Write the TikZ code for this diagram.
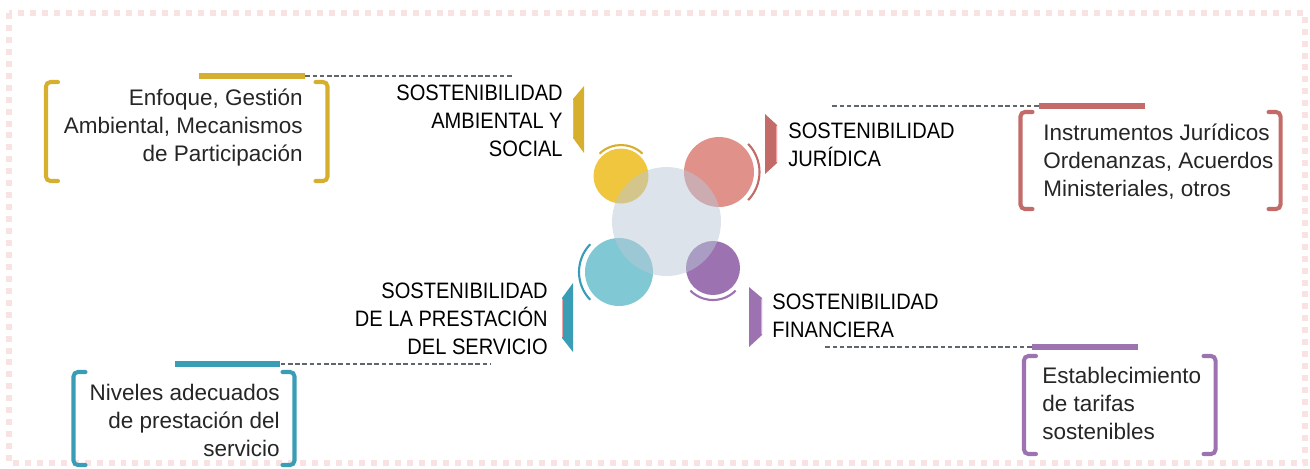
\documentclass[tikz,border=0pt]{standalone}
\usepackage{fontspec}
\setmainfont{Liberation Sans}
\newfontfamily\fuenterotulo[FakeStretch=0.9]{Liberation Sans}
\usetikzlibrary{positioning}

\definecolor{amarillo}{HTML}{D7AF2E}
\definecolor{amarilloclaro}{HTML}{F0C63E}
\definecolor{rojo}{HTML}{C26B69}
\definecolor{rojoclaro}{HTML}{E0928A}
\definecolor{turquesa}{HTML}{3A9DB6}
\definecolor{turquesaclaro}{HTML}{80C8D3}
\definecolor{morado}{HTML}{9C73B0}
\definecolor{nucleo}{HTML}{B9C7D7}
\definecolor{guiagris}{HTML}{5F676E}
\definecolor{rosaborde}{HTML}{F8E2E2}
\definecolor{rosasombra}{HTML}{F2A5A5}
\definecolor{tinta}{HTML}{262626}

\begin{document}
\begin{tikzpicture}[
    x=0.02cm, y=-0.02cm,
    circulo/.style={circle, inner sep=0pt},
    rotulo/.style={inner sep=0pt, font=\fuenterotulo\fontsize{12.7}{15.8}\selectfont, text=black},
    detalle/.style={inner sep=0pt, font=\fontsize{12.8}{16.1}\selectfont, text=tinta},
    barra/.style={rectangle, inner sep=0pt, minimum width=2.12cm, minimum height=0.12cm},
    guia/.style={draw=guiagris, line width=1.3pt, dash pattern=on 2.6pt off 1.5pt},
    corchete/.style={line width=2.3pt, rounded corners=2.5pt, line cap=round},
    aro/.style={line width=1.2pt},
    borde/.style={draw=rosaborde, line width=3.7pt, dash pattern=on 3.4pt off 3.4pt}
]

\useasboundingbox (0,0) rectangle (1310,468);

% Frame
\draw[borde] (9,13) rectangle (1305,463);

% Define circles
\node[circulo, fill=amarilloclaro, minimum size=1.1cm] (amb) at (621,176) {};
\node[circulo, fill=rojoclaro, minimum size=1.4cm] (jur) at (719,172) {};
\node[circulo, fill=turquesaclaro, minimum size=1.36cm] (pre) at (619,272) {};
\node[circulo, fill=morado, minimum size=1.08cm] (fin) at (713,268) {};
\node[circulo, fill=nucleo, fill opacity=0.5, minimum size=2.18cm] (centro) at (666.5,221.5) {};

% Arcs around the circles
\draw[aro, amarillo] ([shift={(46:0.62cm)}]amb.center) arc[start angle=46, end angle=134, radius=0.62cm];
\draw[aro, rojo] ([shift={(-44:0.81cm)}]jur.center) arc[start angle=-44, end angle=44, radius=0.81cm];
\draw[aro, turquesa] ([shift={(136:0.8cm)}]pre.center) arc[start angle=136, end angle=224, radius=0.8cm];
\draw[aro, morado] ([shift={(225:0.64cm)}]fin.center) arc[start angle=225, end angle=315, radius=0.64cm];

% Tabs
\fill[amarillo] (573,99) -- (584,86) -- (584,153) -- (573,138) -- cycle;
\draw[rosasombra, line width=0.6pt] (573.5,100) -- (573.5,137);
\fill[rojo] (765,114) -- (777,125) -- (777,163) -- (765,174) -- cycle;
\draw[rosasombra, line width=0.6pt] (776.5,126) -- (776.5,162);
\fill[turquesa] (562,298) -- (573,283) -- (573,352) -- (562,338) -- cycle;
\draw[rosasombra, line width=0.6pt] (562.5,299) -- (562.5,337);
\fill[morado] (749,287) -- (762,298) -- (762,335) -- (749,347) -- cycle;
\draw[rosasombra, line width=0.6pt] (761.5,299) -- (761.5,334);

% Labels
\node[rotulo, anchor=east, align=right] (lblAmb) at (563,121) {SOSTENIBILIDAD\\AMBIENTAL Y\\SOCIAL};
\node[rotulo, anchor=west, align=left] (lblJur) at (788,145) {SOSTENIBILIDAD\\JURÍDICA};
\node[rotulo, anchor=east, align=right] (lblPre) at (548,319) {SOSTENIBILIDAD\\DE LA PRESTACIÓN\\DEL SERVICIO};
\node[rotulo, anchor=west, align=left] (lblFin) at (772,316) {SOSTENIBILIDAD\\FINANCIERA};

% Bars and guides
\node[barra, fill=amarillo] (barAmb) at (252,76) {};
\node[barra, fill=rojo] (barJur) at (1092,106) {};
\node[barra, fill=turquesa] (barPre) at (227.5,364) {};
\node[barra, fill=morado] (barFin) at (1085,347) {};
\coordinate (finAmb) at (513,76);
\coordinate (finJur) at (830,106);
\coordinate (finPre) at (490,364);
\coordinate (finFin) at (823,347);
\foreach \n in {Amb,Jur,Pre,Fin} {
    \draw[guia] (bar\n) -- (fin\n);
}

% Boxes
\node[detalle, anchor=east, align=right] (txtAmb) at (303,127.5) {Enfoque, Gestión\\Ambiental, Mecanismos\\de Participación};
\node[detalle, anchor=west, align=left] (txtJur) at (1043,161.5) {Instrumentos Jurídicos\\Ordenanzas, Acuerdos\\Ministeriales, otros};
\node[detalle, anchor=east, align=right] (txtPre) at (280,420.5) {Niveles adecuados\\de prestación del\\servicio};
\node[detalle, anchor=west, align=left] (txtFin) at (1042,403.5) {Establecimiento\\de tarifas\\sostenibles};

\foreach \l/\r/\t/\b/\c in {46/327.5/82/181/amarillo, 1020.5/1280.5/112/209/rojo, 73.5/294.5/372/465/turquesa, 1024/1215.5/356/454/morado} {
    \draw[corchete, \c] (\l+12,\t) -- (\l,\t) -- (\l,\b) -- (\l+12,\b);
    \draw[corchete, \c] (\r-12,\t) -- (\r,\t) -- (\r,\b) -- (\r-12,\b);
}

\end{tikzpicture}
\end{document}
